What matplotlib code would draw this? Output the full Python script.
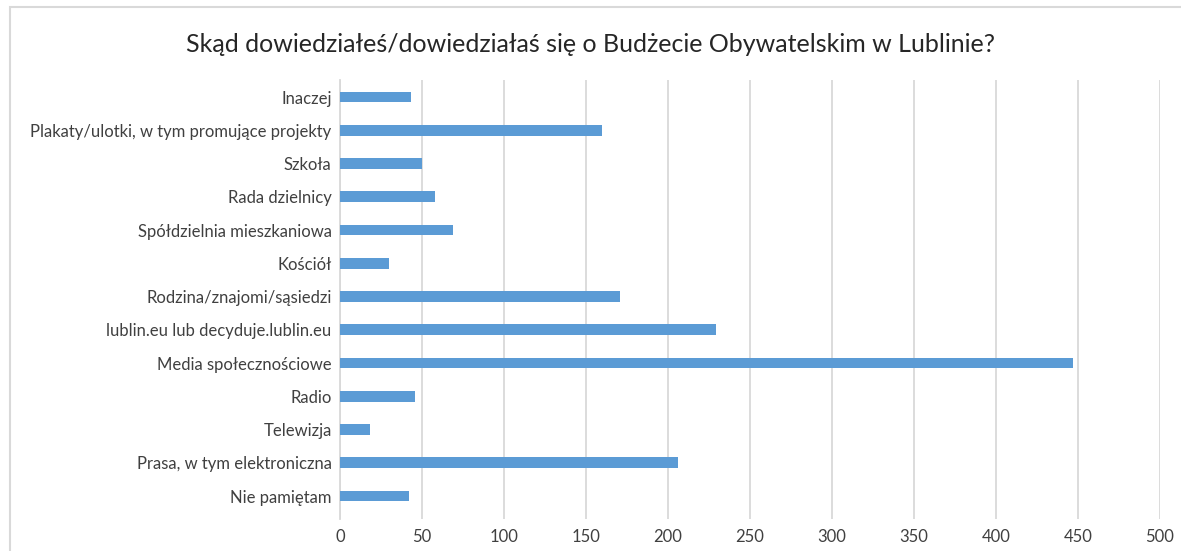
import matplotlib
matplotlib.use("Agg")
import matplotlib.pyplot as plt
from matplotlib.patches import Rectangle

plt.rcParams['font.family'] = ['Lato', 'DejaVu Sans']

title = "Skąd dowiedziałeś/dowiedziałaś się o Budżecie Obywatelskim w Lublinie?"

# bottom to top, as drawn
categories = [
    "Nie pamiętam",
    "Prasa, w tym elektroniczna",
    "Telewizja",
    "Radio",
    "Media społecznościowe",
    "lublin.eu lub decyduje.lublin.eu",
    "Rodzina/znajomi/sąsiedzi",
    "Kościół",
    "Spółdzielnia mieszkaniowa",
    "Rada dzielnicy",
    "Szkoła",
    "Plakaty/ulotki, w tym promujące projekty",
    "Inaczej",
]
counts = [42, 206, 18, 46, 447, 229, 171, 30, 69, 58, 50, 160, 43]
xticks = [0, 50, 100, 150, 200, 250, 300, 350, 400, 450, 500]

W, H = 1181, 551
fig = plt.figure(figsize=(W / 100, H / 100), dpi=100)

# chart frame (cropped on the right and bottom)
fig.patches.append(Rectangle((10 / W, -0.1), 1.2, 1 - 7 / H + 0.1,
                             transform=fig.transFigure, fill=False,
                             edgecolor='#d9d9d9', linewidth=1.5))

ax = fig.add_axes([340 / W, 1 - 519 / H, (1160 - 340) / W, (519 - 80.4) / H])

ypos = list(range(len(categories)))
ax.barh(ypos, counts, height=0.32, color='#5b9bd5', zorder=3)

ax.set_xlim(0, 500)
ax.set_ylim(-0.69, len(categories) - 0.5)
ax.set_xticks(xticks)
ax.set_xticklabels([str(t) for t in xticks])
ax.set_yticks(ypos)
ax.set_yticklabels(categories)

ax.grid(axis='x', color='#d9d9d9', linewidth=1.3, zorder=0)
for s in ['top', 'right', 'bottom']:
    ax.spines[s].set_visible(False)
ax.spines['left'].set_color('#d9d9d9')
ax.spines['left'].set_linewidth(1.3)

ax.tick_params(axis='x', length=0, pad=7, labelsize=12, labelcolor='#404040')
ax.tick_params(axis='y', length=0, pad=6, labelsize=12, labelcolor='#404040')

fig.text(0.5, 1 - 44 / H, title, ha='center', va='center',
         fontsize=18, color='#262626')

fig.savefig("out.png", dpi=100, facecolor='white')
